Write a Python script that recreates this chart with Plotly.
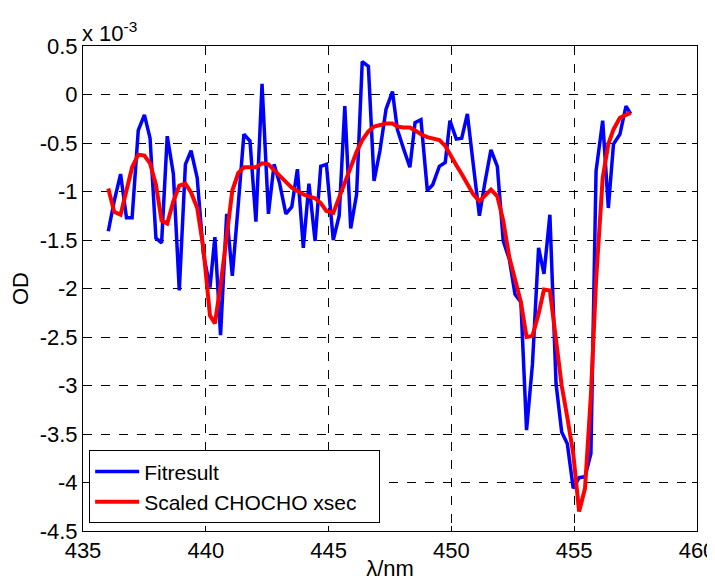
import plotly.graph_objects as go

wavelength = [436.03, 436.27, 436.53, 436.77, 437.0, 437.25, 437.5, 437.73, 437.97, 438.2,
              438.43, 438.68, 438.92, 439.17, 439.4, 439.65, 439.9, 440.17, 440.37, 440.6,
              440.85, 441.08, 441.32, 441.55, 441.8, 442.04, 442.29, 442.55, 442.78, 443.0,
              443.26, 443.5, 443.73, 443.97, 444.2, 444.45, 444.68, 444.91, 445.19, 445.43,
              445.66, 445.9, 446.14, 446.37, 446.62, 446.85, 447.09, 447.34, 447.6, 447.8,
              448.04, 448.31, 448.52, 448.76, 449.02, 449.24, 449.51, 449.75, 449.94, 450.2,
              450.42, 450.65, 450.89, 451.14, 451.37, 451.61, 451.87, 452.11, 452.36, 452.59,
              452.83, 453.06, 453.3, 453.55, 453.77, 454.01, 454.26, 454.49, 454.72, 454.96,
              455.2, 455.44, 455.68, 455.89, 456.16, 456.39, 456.6, 456.86, 457.11, 457.3]

# OD in units of 1e-3
fitresult = [-1.41, -1.10, -0.82, -1.27, -1.27, -0.37, -0.21, -0.45, -1.48, -1.53,
             -0.43, -0.82, -2.02, -0.72, -0.58, -0.86, -1.64, -1.99, -1.47, -2.48,
             -1.23, -1.87, -1.14, -0.41, -0.48, -1.31, 0.11, -1.23, -0.72, -0.91,
             -1.23, -1.16, -0.77, -1.58, -0.92, -1.51, -0.74, -0.72, -1.50, -1.25,
             -0.12, -1.38, -1.03, 0.34, 0.29, -0.89, -0.58, -0.15, 0.03, -0.36,
             -0.55, -0.75, -0.29, -0.26, -0.99, -0.93, -0.74, -0.70, -0.27, -0.46,
             -0.45, -0.20, -0.72, -1.25, -0.90, -0.57, -0.74, -1.51, -1.70, -2.06,
             -2.14, -3.46, -2.78, -1.58, -1.85, -1.24, -2.98, -3.48, -3.60, -4.06,
             -3.95, -3.94, -3.70, -0.79, -0.27, -1.17, -0.51, -0.41, -0.12, -0.20]

chocho = [-0.97, -1.21, -1.24, -1.01, -0.75, -0.62, -0.63, -0.71, -0.93, -1.30,
          -1.33, -1.10, -0.94, -0.92, -1.01, -1.17, -1.58, -2.28, -2.36, -1.97,
          -1.44, -0.99, -0.81, -0.75, -0.75, -0.75, -0.71, -0.72, -0.78, -0.84,
          -0.90, -0.96, -1.00, -1.03, -1.05, -1.07, -1.12, -1.20, -1.22, -1.06,
          -0.90, -0.75, -0.59, -0.47, -0.38, -0.33, -0.31, -0.30, -0.30, -0.33,
          -0.34, -0.34, -0.37, -0.41, -0.44, -0.45, -0.47, -0.53, -0.62, -0.73,
          -0.82, -0.93, -1.03, -1.10, -1.04, -0.98, -1.05, -1.30, -1.68, -1.92,
          -2.14, -2.50, -2.49, -2.26, -2.01, -2.02, -2.54, -3.00, -3.33, -3.70,
          -4.30, -4.06, -3.10, -1.92, -0.86, -0.51, -0.36, -0.24, -0.21, -0.19]

x_ticks = [435, 440, 445, 450, 455, 460]
y_ticks = [0.5, 0, -0.5, -1, -1.5, -2, -2.5, -3, -3.5, -4, -4.5]
y_labels = ["0.5", "0", "-0.5", "-1", "-1.5", "-2", "-2.5", "-3", "-3.5", "-4", "-4.5"]

font = "Liberation Sans, Arial, sans-serif"
FS = 22

fig = go.Figure()
fig.add_trace(go.Scatter(x=wavelength, y=fitresult, mode="lines", name="Fitresult",
                         line=dict(color="#0000ff", width=3.5)))
fig.add_trace(go.Scatter(x=wavelength, y=chocho, mode="lines",
                         name="Scaled CHOCHO xsec\u00a0\u00a0\u00a0",
                         line=dict(color="#ff0000", width=4)))

axis_common = dict(showline=True, linecolor="black", linewidth=1, mirror="ticks",
                   ticks="inside", ticklen=5, tickcolor="black", automargin=False,
                   ticklabeloverflow="allow",
                   showgrid=True, gridcolor="black", griddash="dash", gridwidth=0.6,
                   zeroline=False, tickfont=dict(family=font, size=FS, color="black"))

# page body has an 8px default margin, so the figure is sized to fit the window
fig.update_layout(
    width=707, height=573,
    margin=dict(l=75, r=18, t=38, b=50),
    paper_bgcolor="white", plot_bgcolor="white",
    font=dict(family=font, size=FS, color="black"),
    showlegend=True,
    legend=dict(x=0.01, y=0.016, xanchor="left", yanchor="bottom",
                bordercolor="black", borderwidth=1, bgcolor="white",
                font=dict(family=font, size=21, color="black"),
                tracegroupgap=0, itemwidth=44),
    xaxis=dict(range=[435, 460], tickvals=x_ticks,
               title=dict(text="λ/nm", standoff=0, font=dict(family=font, size=FS)),
               **axis_common),
    yaxis=dict(range=[-4.5, 0.5], tickvals=y_ticks, ticktext=y_labels,
               title=dict(text="OD", standoff=26, font=dict(family=font, size=FS)),
               **axis_common),
)

fig.add_annotation(xref="paper", yref="paper", x=0, y=1.0, xanchor="left", yanchor="bottom",
                   text="x 10<sup>-3</sup>", showarrow=False, yshift=-2, xshift=-3,
                   font=dict(family=font, size=FS, color="black"))

fig.write_html("out.html")
